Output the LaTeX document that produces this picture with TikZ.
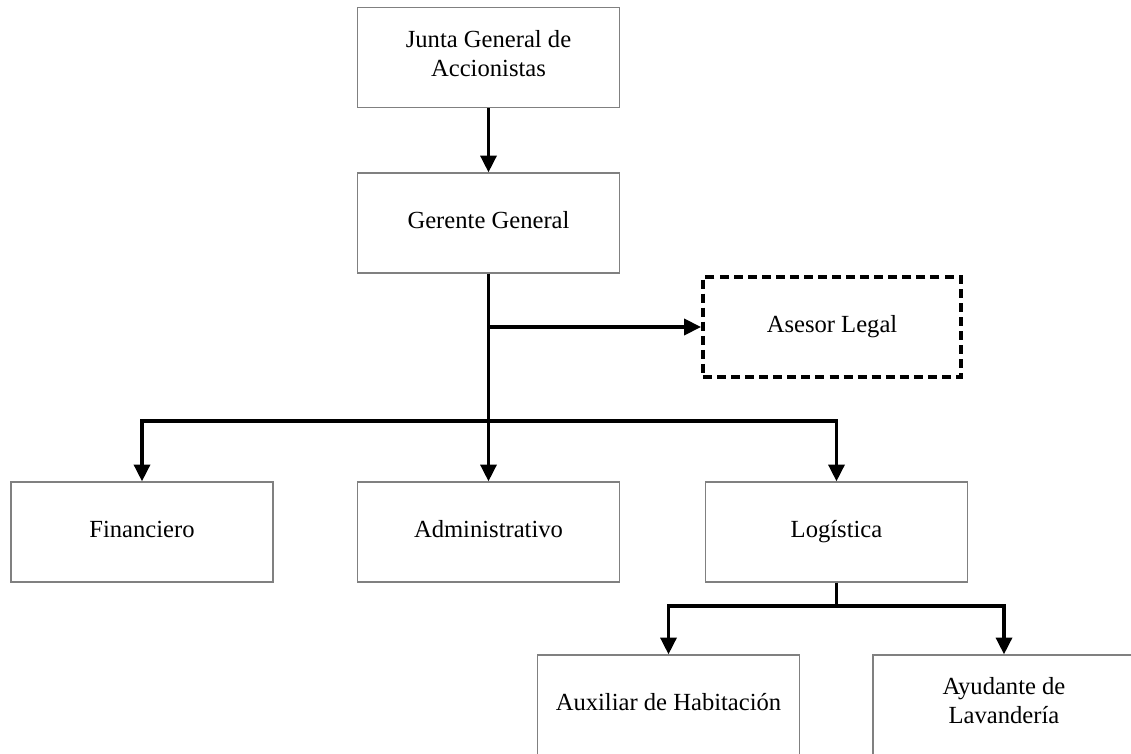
\documentclass[tikz,border=0pt]{standalone}
\usepackage{fontspec}
\setmainfont{Liberation Serif}
\usepackage{tikz}
\usetikzlibrary{arrows.meta}
\usetikzlibrary{positioning}
\tikzset{box/.style = {draw = black!50, line width = 0.9pt, rectangle, align = center, minimum width = 6.55cm, minimum height = 2.5cm, inner sep = 0, font = \fontsize{17.5}{20.6}\selectfont, execute at begin node = \strut, execute at end node = \strut}}
\tikzset{adv/.style = {box, draw = black, line width = 2.8pt, dash pattern = on 6.4pt off 3.6pt, minimum width = 6.45cm, minimum height = 2.5cm}}
\tikzset{link/.style = {line width = 2.4pt, -{Triangle[length = 0.42cm, width = 0.4cm]}}}

\begin{document}
\begin{tikzpicture}[x = 0.025cm, y = -0.025cm]
    \useasboundingbox (0, 0) rectangle (1131, 754);
    \clip (0, 0) rectangle (1131, 754);
    \node [box] (junta) at (488.5, 57.5) {Junta General de\\Accionistas};
    \node [box] (gerente) at (488.5, 223) {Gerente General};
    \node [adv] (asesor) at (832, 327) {Asesor Legal};
    \node [box] (fin) at (142, 532) {Financiero};
    \node [box] (adm) at (488.5, 532) {Administrativo};
    \node [box] (log) at (836.5, 532) {Logística};
    \node [box] (aux) at (668.5, 705) {Auxiliar de Habitación};
    \node [box] (ayu) at (1004, 705) {Ayudante de\\Lavandería};
    \coordinate (bus) at (488.5, 421);
    \coordinate (lbus) at (836.5, 606);
    \draw [link] (junta) -- (gerente);
    \draw [link] (gerente) -- (adm);
    \draw [link] (gerente.south |- asesor.west) -- (asesor.west);
    \draw [link] (bus) -| (fin.north);
    \draw [link] (bus) -| (log.north);
    \draw [line width = 2.4pt] (log.south) -- (lbus);
    \draw [link] (lbus) -| (aux.north);
    \draw [link] (lbus) -| (ayu.north);
\end{tikzpicture}
\end{document}
